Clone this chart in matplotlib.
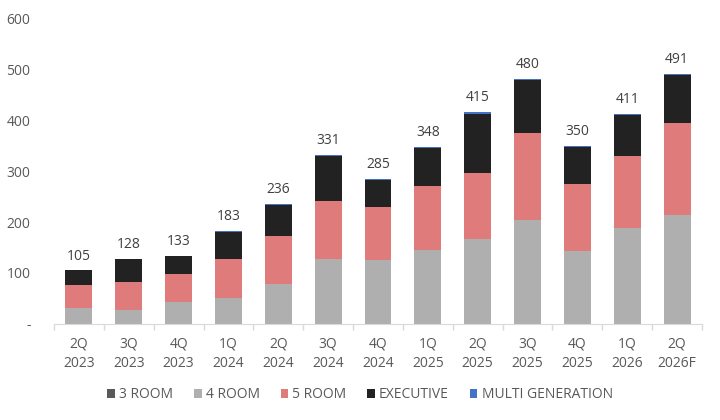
import matplotlib
matplotlib.use("Agg")
import matplotlib.pyplot as plt
import numpy as np

plt.rcParams['font.family'] = ['Open Sans', 'DejaVu Sans']

categories = ["2Q\n2023", "3Q\n2023", "4Q\n2023", "1Q\n2024", "2Q\n2024", "3Q\n2024", "4Q\n2024",
              "1Q\n2025", "2Q\n2025", "3Q\n2025", "4Q\n2025", "1Q\n2026", "2Q\n2026F"]
room3 = [0, 0, 0, 0, 0, 0, 0, 0, 0, 0, 0, 0, 0]
room4 = [31, 28, 43, 51, 78, 127, 125, 146, 166, 203, 143, 188, 213]
room5 = [45, 55, 56, 76, 95, 114, 105, 124, 130, 172, 132, 142, 181]
executive = [29, 45, 34, 53, 61, 89, 53, 76, 116, 103, 73, 79, 95]
multigen = [0, 0, 0, 3, 2, 1, 2, 2, 3, 2, 2, 2, 2]

series = [("3 ROOM", room3, "#595959"), ("4 ROOM", room4, "#afafaf"),
          ("5 ROOM", room5, "#e07b7b"), ("EXECUTIVE", executive, "#222222"),
          ("MULTI GENERATION", multigen, "#4472c4")]

fig = plt.figure(figsize=(7.2, 4.2), dpi=100)
ax = fig.add_axes([54/720, 96/420, 648/720, 306/420])

x = np.arange(len(categories))
bottom = np.zeros(len(categories))
for name, vals, col in series:
    v = np.array(vals, dtype=float)
    ax.bar(x, v, 0.54, bottom=bottom, color=col, label=name, linewidth=0)
    bottom += v

for xi, tot in zip(x, bottom):
    ax.annotate(f"{int(round(tot))}", (xi, tot), xytext=(0, 5), textcoords="offset points",
                ha="center", va="bottom", fontsize=10, color="#404040")

ax.set_xlim(-0.5, len(categories) - 0.5)
ax.set_ylim(0, 600)
ax.set_yticks([0, 100, 200, 300, 400, 500, 600])
ax.set_yticklabels(["-", "100", "200", "300", "400", "500", "600"])
ax.tick_params(axis="y", length=0, pad=17, labelsize=10, labelcolor="#595959")

ax.set_xticks(x)
ax.set_xticklabels(categories, fontsize=10, color="#595959", linespacing=1.4)
ax.tick_params(axis="x", length=0, pad=9)
ax.set_xticks(np.arange(len(categories) + 1) - 0.5, minor=True)
ax.tick_params(axis="x", which="minor", length=4, color="#d9d9d9", width=1)

for s in ["top", "right", "left"]:
    ax.spines[s].set_visible(False)
ax.spines["bottom"].set_color("#d9d9d9")

leg = fig.legend(loc="center", bbox_to_anchor=(0.5, 25/420), ncol=5, frameon=False,
                 fontsize=10, handlelength=0.55, handleheight=0.55, handletextpad=0.3,
                 columnspacing=1.5)
for t in leg.get_texts():
    t.set_color("#595959")

fig.savefig("out.png", dpi=100)
